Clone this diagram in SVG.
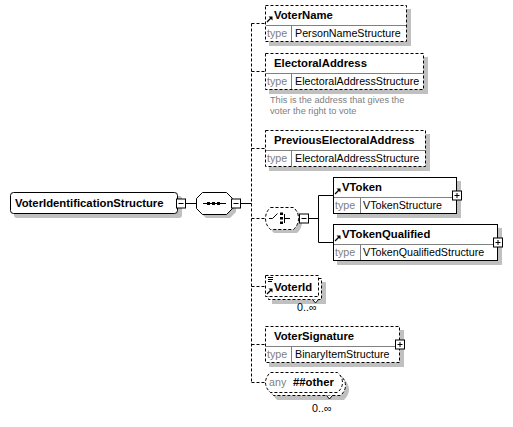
<svg xmlns="http://www.w3.org/2000/svg" width="513" height="427" viewBox="0 0 513 427">
<defs>
<style>
.sh{fill:#c0c0c0;stroke:none}
.bx{fill:#fff;stroke:#000;stroke-width:1}
.d{stroke-dasharray:3,2}
.dv{stroke:#808080;stroke-width:1;fill:none}
.ln{stroke:#000;stroke-width:1;fill:none}
.nm{font-family:"Liberation Sans",Arial,sans-serif;font-weight:bold;font-size:11.3px;fill:#000}
.tv{font-family:"Liberation Sans",Arial,sans-serif;font-size:10.7px;fill:#000}
.tk{fill:#808080}
.ds{font-family:"Liberation Sans",Arial,sans-serif;font-size:9.2px;fill:#808080}
</style>
<g id="ref"><path d="M0,0 L4,-4" stroke="#000" stroke-width="1.3"/><path d="M1.5,-5.5 H5.5 V-1.5 Z" fill="#000"/></g>
<g id="minus"><rect x="-4.5" y="-4.5" width="9" height="9" fill="#fff" stroke="#000"/><path d="M-2.5,0 H2.5" stroke="#000"/></g>
<g id="plus"><rect x="-4.5" y="-4.5" width="9" height="9" fill="#fff" stroke="#000"/><path d="M-2.5,0 H2.5 M0,-2.5 V2.5" stroke="#000"/></g>
</defs>

<g id="connectors">
<path class="ln" d="M185.5,203.5 H196.5"/>
<path class="ln" d="M240.5,203.5 H251.5"/>
<path class="ln d" d="M251.5,23.5 V382.5"/>
<path class="ln d" d="M251.5,23.5 H265 M251.5,71.5 H265 M251.5,148.5 H265 M251.5,218.5 H265 M251.5,286.5 H265 M251.5,344.5 H265 M251.5,382.5 H265"/>
<path class="ln" d="M308.5,218.5 H318.5 M318.5,195.5 V242.5 M318.5,195.5 H333.5 M318.5,242.5 H333.5"/>
</g>

<g id="root">
<rect class="sh" x="14" y="196" width="168" height="22" rx="3"/>
<rect class="bx" x="10.5" y="192.5" width="167" height="21" rx="3"/>
<text class="nm" x="15" y="207">VoterIdentificationStructure</text>
<use href="#minus" x="181" y="203.5"/>
</g>

<g id="sequence">
<polygon class="sh" points="206,196 230,196 236,202 236,212 230,218 206,218 200,212 200,202"/>
<polygon class="bx" points="202.5,192.5 226.5,192.5 232.5,198.5 232.5,208.5 226.5,214.5 202.5,214.5 196.5,208.5 196.5,198.5"/>
<path class="ln" d="M203,203.5 H226"/>
<rect x="207" y="202" width="3" height="3" fill="#000"/>
<rect x="212" y="202" width="3" height="3" fill="#000"/>
<rect x="217" y="202" width="3" height="3" fill="#000"/>
<use href="#minus" x="236" y="203.5"/>
</g>

<g id="VoterName">
<rect class="sh" x="269" y="9" width="142" height="37"/>
<rect class="bx d" x="265.5" y="5.5" width="141" height="36"/>
<path class="dv" d="M266,25.5 H406 M291.5,26 V41"/>
<use href="#ref" x="267" y="22"/>
<text class="nm" x="274" y="19">VoterName</text>
<text class="tv tk" x="267" y="37">type</text>
<text class="tv" x="295" y="37">PersonNameStructure</text>
</g>

<g id="ElectoralAddress">
<rect class="sh" x="269" y="57" width="159" height="37"/>
<rect class="bx d" x="265.5" y="53.5" width="158" height="36"/>
<path class="dv" d="M266,73.5 H423 M291.5,74 V89"/>
<text class="nm" x="274" y="67">ElectoralAddress</text>
<text class="tv tk" x="267" y="85">type</text>
<text class="tv" x="295" y="85">ElectoralAddressStructure</text>
<text class="ds" x="270" y="103">This is the address that gives the</text>
<text class="ds" x="270" y="114">voter the right to vote</text>
</g>

<g id="PreviousElectoralAddress">
<rect class="sh" x="269" y="134" width="161" height="37"/>
<rect class="bx d" x="265.5" y="130.5" width="160" height="36"/>
<path class="dv" d="M266,150.5 H425 M291.5,151 V166"/>
<text class="nm" x="274" y="144">PreviousElectoralAddress</text>
<text class="tv tk" x="267" y="162">type</text>
<text class="tv" x="295" y="162">ElectoralAddressStructure</text>
</g>

<g id="choice">
<path class="sh" d="M274,211 H297 Q302,215.5 302,222 Q302,228.5 297,233 H274 Q269,228.5 269,222 Q269,215.5 274,211 Z"/>
<path class="bx d" d="M270.5,207.5 H293.5 Q298.5,212 298.5,218.5 Q298.5,225 293.5,229.5 H270.5 Q265.5,225 265.5,218.5 Q265.5,212 270.5,207.5 Z"/>
<path class="ln" d="M269,218.5 H272.5 L277.5,213.5"/>
<rect x="280" y="212.5" width="3" height="2.5" fill="#000"/>
<rect x="280" y="217" width="3" height="2.5" fill="#000"/>
<rect x="280" y="221.5" width="3" height="2.5" fill="#000"/>
<path class="ln" d="M284.5,214 V223 M284.5,218.5 H290"/>
<use href="#minus" x="304" y="218.5"/>
</g>

<g id="VToken">
<rect class="sh" x="337" y="181" width="124" height="37"/>
<rect class="bx" x="333.5" y="177.5" width="123" height="36"/>
<path class="dv" d="M334,197.5 H456 M360.5,198 V213"/>
<use href="#ref" x="335" y="194"/>
<text class="nm" x="342" y="191">VToken</text>
<text class="tv tk" x="335" y="209">type</text>
<text class="tv" x="363" y="209">VTokenStructure</text>
<use href="#plus" x="457" y="195.5"/>
</g>

<g id="VTokenQualified">
<rect class="sh" x="337" y="228" width="165" height="37"/>
<rect class="bx" x="333.5" y="224.5" width="164" height="36"/>
<path class="dv" d="M334,244.5 H497 M360.5,245 V260"/>
<use href="#ref" x="335" y="241"/>
<text class="nm" x="342" y="238">VTokenQualified</text>
<text class="tv tk" x="335" y="256">type</text>
<text class="tv" x="363" y="256">VTokenQualifiedStructure</text>
<use href="#plus" x="498" y="242.5"/>
</g>

<g id="VoterId">
<rect class="sh" x="272" y="282" width="54" height="22"/>
<rect class="bx d" x="268.5" y="278.5" width="53" height="21"/>
<path class="bx" d="M312.5,299.5 L315.5,303 L318.5,299.5" />
<rect class="bx d" x="265.5" y="275.5" width="53" height="21"/>
<path class="ln" d="M268,277.5 H273 M268,279.5 H273 M268,281.5 H272"/>
<use href="#ref" x="267" y="294"/>
<text class="nm" x="274" y="291">VoterId</text>
<text class="tv" x="297" y="311">0..∞</text>
</g>

<g id="VoterSignature">
<rect class="sh" x="269" y="330" width="135" height="37"/>
<rect class="bx d" x="265.5" y="326.5" width="134" height="36"/>
<path class="dv" d="M266,346.5 H399 M291.5,347 V362"/>
<text class="nm" x="274" y="340">VoterSignature</text>
<text class="tv tk" x="267" y="358">type</text>
<text class="tv" x="295" y="358">BinaryItemStructure</text>
<use href="#plus" x="400" y="344.5"/>
</g>

<g id="any">
<path class="sh" d="M277,379 H344 Q349,384 349,389.5 Q349,395 344,400 H277 Q272,395 272,389.5 Q272,384 277,379 Z"/>
<path class="bx d" d="M273.5,375.5 H340.5 Q345.5,380 345.5,385.5 Q345.5,391 340.5,395.5 H273.5 Q268.5,391 268.5,385.5 Q268.5,380 273.5,375.5 Z"/>
<path class="bx" d="M326.5,395.5 L329.5,399 L332.5,395.5"/>
<path class="bx d" d="M270.5,372.5 H337.5 Q342.5,377 342.5,382.5 Q342.5,388 337.5,392.5 H270.5 Q265.5,388 265.5,382.5 Q265.5,377 270.5,372.5 Z"/>
<text class="tv tk" x="269" y="386">any</text>
<text class="nm" x="293" y="386">##other</text>
<text class="tv" x="312" y="412">0..∞</text>
</g>
</svg>
